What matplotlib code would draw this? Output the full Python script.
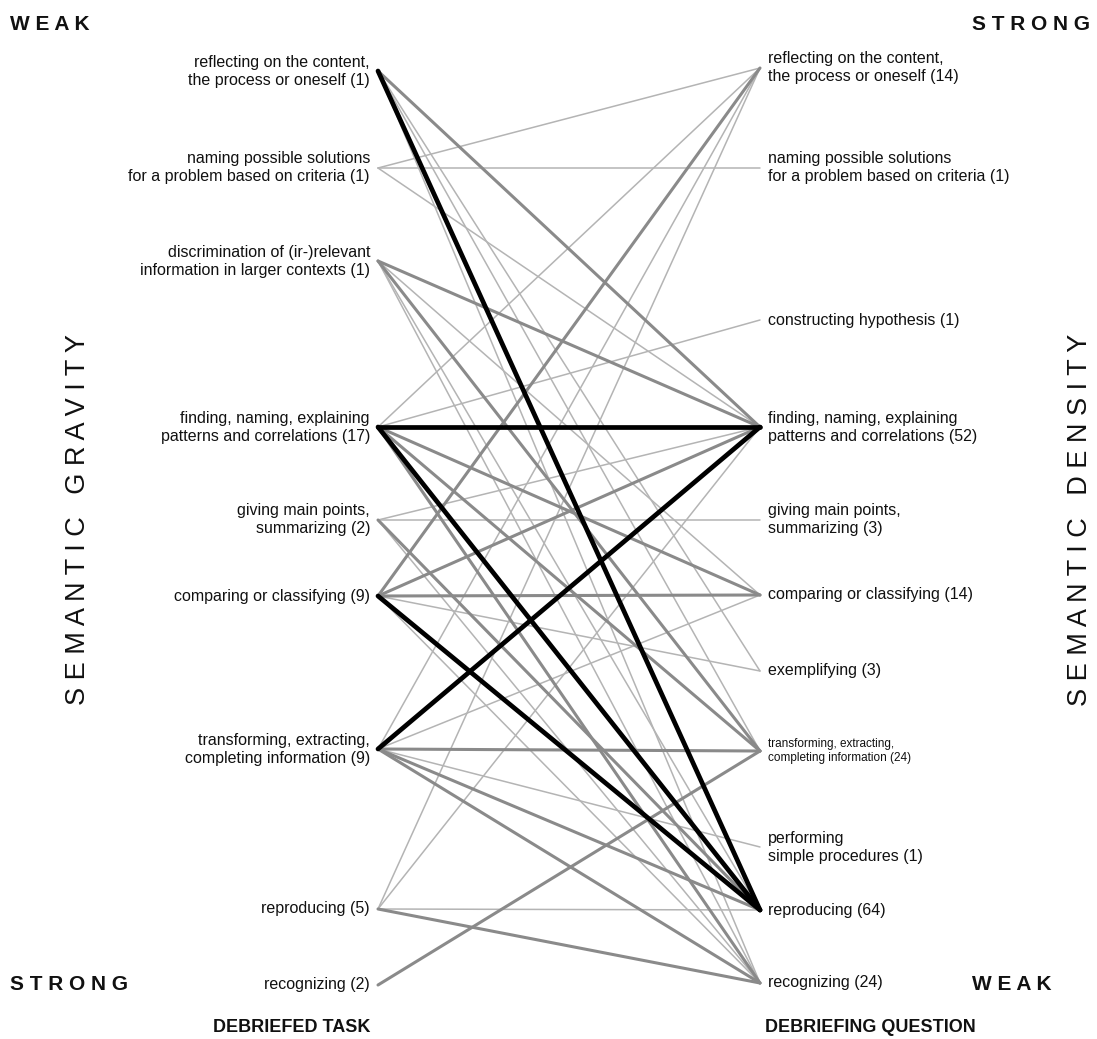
import matplotlib
matplotlib.use("Agg")
import matplotlib.pyplot as plt

# ---------------- data ----------------
left_labels = [
    "reflecting on the content,\nthe process or oneself (1)",
    "naming possible solutions\nfor a problem based on criteria (1)",
    "discrimination of (ir-)relevant\ninformation in larger contexts (1)",
    "finding, naming, explaining\npatterns and correlations (17)",
    "giving main points,\nsummarizing (2)",
    "comparing or classifying (9)",
    "transforming, extracting,\ncompleting information (9)",
    "reproducing (5)",
    "recognizing (2)",
]
right_labels = [
    "reflecting on the content,\nthe process or oneself (14)",
    "naming possible solutions\nfor a problem based on criteria (1)",
    "constructing hypothesis (1)",
    "finding, naming, explaining\npatterns and correlations (52)",
    "giving main points,\nsummarizing (3)",
    "comparing or classifying (14)",
    "exemplifying (3)",
    "transforming, extracting,\ncompleting information (24)",
    "performing\nsimple procedures (1)",
    "reproducing (64)",
    "recognizing (24)",
]
# connections: left index -> right index, strength class (1 weak .. 3 strong)
edge_from = [0, 0, 0, 0, 0,
             1, 1, 1,
             2, 2, 2, 2, 2,
             3, 3, 3, 3, 3, 3, 3,
             4, 4, 4, 4,
             5, 5, 5, 5, 5, 5,
             6, 6, 6, 6, 6, 6, 6,
             7, 7, 7, 7,
             8]
edge_to = [9, 3, 6, 7, 10,
           0, 1, 3,
           3, 5, 7, 9, 10,
           0, 2, 3, 5, 7, 9, 10,
           3, 4, 9, 10,
           0, 3, 5, 6, 9, 10,
           0, 3, 5, 7, 8, 9, 10,
           0, 3, 9, 10,
           7]
edge_strength = [3, 2, 1, 1, 1,
                 1, 1, 1,
                 2, 1, 2, 1, 1,
                 1, 1, 3, 2, 2, 3, 2,
                 1, 1, 2, 1,
                 2, 2, 2, 1, 3, 1,
                 1, 3, 1, 2, 1, 2, 2,
                 1, 1, 1, 2,
                 2]

# ---------------- layout ----------------
W, H = 1097, 1039
left_y = [71, 168, 261, 427, 520, 596, 749, 909, 985]
right_y = [68, 168, 320, 427, 520, 595, 671, 751, 847, 910, 983]
xL, xR = 378, 760

style = {1: dict(color="#b4b4b4", lw=1.1),
         2: dict(color="#8a8a8a", lw=2.2),
         3: dict(color="#000000", lw=3.4)}

plt.rcParams['font.family'] = ['Liberation Sans', 'DejaVu Sans']
fig = plt.figure(figsize=(W / 100, H / 100), dpi=100)
ax = fig.add_axes([0, 0, 1, 1])
ax.set_xlim(0, W)
ax.set_ylim(H, 0)
ax.axis("off")

order = sorted(range(len(edge_from)), key=lambda i: edge_strength[i])
for i in order:
    s = style[edge_strength[i]]
    ax.plot([xL, xR], [left_y[edge_from[i]], right_y[edge_to[i]]],
            color=s["color"], lw=s["lw"], solid_capstyle="round", zorder=edge_strength[i])

fs = 11.5
for lab, y in zip(left_labels, left_y):
    ax.text(xL - 8, y, lab, ha="right", va="center", fontsize=fs,
            linespacing=1.25, color="#111111")
for k, (lab, y) in enumerate(zip(right_labels, right_y)):
    size = 8.5 if k == 7 else fs
    ax.text(xR + 8, y, lab, ha="left", va="center", fontsize=size,
            linespacing=1.25, color="#111111")

corner = dict(fontsize=15, fontweight="bold", color="#111111")
ax.text(10, 24, "W E A K", ha="left", va="center", **corner)
ax.text(1090, 24, "S T R O N G", ha="right", va="center", **corner)
ax.text(10, 985, "S T R O N G", ha="left", va="center", **corner)
ax.text(1052, 985, "W E A K", ha="right", va="center", **corner)
foot = dict(fontsize=13, fontweight="bold", color="#111111")
ax.text(292, 1028, "DEBRIEFED TASK", ha="center", va="center", **foot)
ax.text(870, 1028, "DEBRIEFING QUESTION", ha="center", va="center", **foot)

ax.text(78, 520, "S E M A N T I C   G R A V I T Y", rotation=90, ha="center",
        va="center", fontsize=19.5, color="#111111")
ax.text(1080, 520, "S E M A N T I C   D E N S I T Y", rotation=90, ha="center",
        va="center", fontsize=19.5, color="#111111")

fig.savefig("out.png", dpi=100)
